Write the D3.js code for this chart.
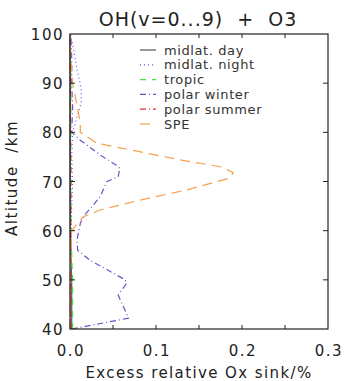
<!DOCTYPE html>
<html>
<head>
<meta charset="utf-8">
<script src="https://cdn.jsdelivr.net/npm/d3@7"></script>
<style>
body{margin:0;background:#fff}
svg{display:block;font-family:"DejaVu Sans",sans-serif}
</style>
</head>
<body>
<svg id="chart" width="355" height="381"></svg>
<script>
let names=["midlat. day","midlat. night","tropic","polar winter","polar summer","SPE"]
let colors=["#555555","#5a5aff","#3ee63e","#7050c8","#e03030","#f5a050"]
let dashes=["none","1,3","6,6","6,3,1,3","6,3,1,3","10,6"]

let dayAlt=[40,45,50,55,60,70,80,90,100]
let dayVal=[0.002,0.002,0.002,0.001,0.0005,0.0003,0.0002,0.0002,0]
let nightAlt=[40,50,60,70,75,80,83,86,89,92,95,98,100]
let nightVal=[0.001,0.001,0.001,0.003,0.002,0.003,0.008,0.013,0.013,0.009,0.006,0.003,0]
let tropAlt=[40,45,50,55,60,70,80,90,100]
let tropVal=[0.003,0.003,0.003,0.002,0.001,0.001,0.001,0.001,0]
let winterAlt=[40,42.2,46.9,49.3,50,51.4,54,56,58,61.5,63.2,65.2,66.9,70,71,72.7,73.3,75.4,78.4,80,85,90,95,100]
let winterVal=[0.002,0.068,0.056,0.066,0.064,0.05,0.023,0.009,0.008,0.012,0.017,0.027,0.035,0.043,0.056,0.058,0.054,0.035,0.012,0.002,0.003,0.002,0.002,0.001]
let summerAlt=[40,50,60,70,80,90,100]
let summerVal=[0.001,0.001,0.001,0.001,0.0005,0.0005,0]
let speAlt=[40,50,60,62.8,64.2,66.2,68.3,70.7,71.8,73,74.4,77.8,80,82,86.5,90,95,100]
let speVal=[0,0,0.002,0.015,0.035,0.081,0.136,0.186,0.19,0.175,0.128,0.031,0.012,0.012,0.007,0.003,0.001,0]

let series=[[dayAlt,dayVal],[nightAlt,nightVal],[tropAlt,tropVal],[winterAlt,winterVal],[summerAlt,summerVal],[speAlt,speVal]]

let xTicks=[0,0.1,0.2,0.3]
let yTicks=[40,50,60,70,80,90,100]

let svg=d3.select("#chart")
let pl=70,pr=328,pt=34,pb=329
let x=d3.scaleLinear().domain([0,0.3]).range([pl,pr])
let y=d3.scaleLinear().domain([40,100]).range([pb,pt])
let ink="#222"

// data lines
let line=d3.line().x(d=>x(d[1])).y(d=>y(d[0]))
series.forEach((s,i)=>{
let pts=s[0].map((a,j)=>[a,s[1][j]])
svg.append("path").attr("d",line(pts))
.attr("fill","none").attr("stroke",colors[i]).attr("stroke-width",1.2)
.attr("stroke-dasharray",dashes[i])
})

// frame
svg.append("rect").attr("x",pl).attr("y",pt).attr("width",pr-pl).attr("height",pb-pt)
.attr("fill","none").attr("stroke",ink).attr("stroke-width",1.2)

let minor=d3.range(0.05,0.3,0.05)
minor.forEach(v=>{
svg.append("line").attr("x1",x(v)).attr("x2",x(v)).attr("y1",pb).attr("y2",pb-4).attr("stroke",ink)
svg.append("line").attr("x1",x(v)).attr("x2",x(v)).attr("y1",pt).attr("y2",pt+4).attr("stroke",ink)
})
yTicks.slice(1,-1).forEach(v=>{
svg.append("line").attr("x1",pl).attr("x2",pl+5).attr("y1",y(v)).attr("y2",y(v)).attr("stroke",ink)
svg.append("line").attr("x1",pr).attr("x2",pr-5).attr("y1",y(v)).attr("y2",y(v)).attr("stroke",ink)
})

// tick labels
xTicks.forEach(v=>{
svg.append("text").attr("x",x(v)+1).attr("y",356).attr("text-anchor","middle")
.attr("font-size",15).attr("letter-spacing",1.5).attr("fill",ink).text(d3.format(".1f")(v))
})
yTicks.forEach(v=>{
svg.append("text").attr("x",64).attr("y",y(v)+6).attr("text-anchor","end")
.attr("font-size",15).attr("letter-spacing",1.5).attr("fill",ink).text(v)
})

svg.append("text").attr("x",199).attr("y",378).attr("text-anchor","middle")
.attr("font-size",15).attr("letter-spacing",1.4).attr("fill",ink).text("Excess relative Ox sink/%")
svg.append("text").attr("transform","translate(17,178) rotate(-90)").attr("text-anchor","middle")
.attr("font-size",15).attr("letter-spacing",1.5).attr("fill",ink).attr("xml:space","preserve").text("Altitude  /km")
svg.append("text").attr("x",198).attr("y",26).attr("text-anchor","middle")
.attr("font-size",19).attr("letter-spacing",1).attr("fill",ink).attr("xml:space","preserve").text("OH(v=0...9)  +  O3")

// legend
names.forEach((n,i)=>{
let ly=50+i*14.8
svg.append("line").attr("x1",140).attr("x2",156).attr("y1",ly).attr("y2",ly)
.attr("stroke",colors[i]).attr("stroke-width",1.2).attr("stroke-dasharray",dashes[i])
svg.append("text").attr("x",164).attr("y",ly+4.5).attr("font-size",13).attr("letter-spacing",0.6).attr("fill","#333").text(n)
})
</script>
</body>
</html>
